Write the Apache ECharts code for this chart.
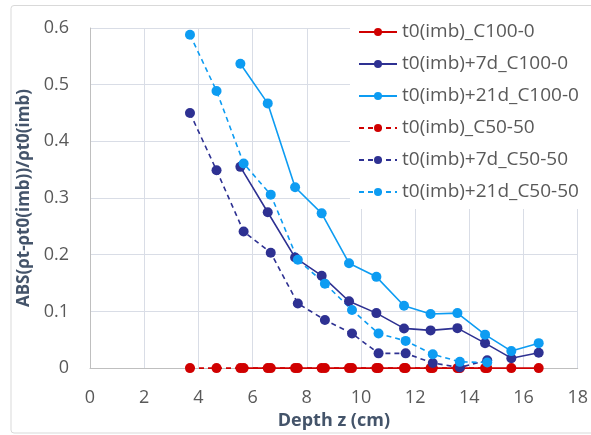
<!DOCTYPE html>
<html>
<head>
<meta charset="utf-8">
<script src="https://cdn.jsdelivr.net/npm/echarts@6/dist/echarts.min.js"></script>
<style>html,body{margin:0;padding:0;background:#fff}#c{width:591px;height:435px}</style>
</head>
<body>
<div id="c"></div>
<script>
const depthC100 = [5.55, 6.56, 7.57, 8.55, 9.56, 10.57, 11.59, 12.57, 13.56, 14.58, 15.55, 16.56];
const depthC50 = [3.69, 4.67, 5.67, 6.67, 7.67, 8.67, 9.67, 10.65, 11.65, 12.65, 13.65, 14.66];
const t0_C100 = [0, 0, 0, 0, 0, 0, 0, 0, 0, 0, 0, 0];
const t7_C100 = [0.355, 0.275, 0.195, 0.163, 0.118, 0.097, 0.070, 0.0665, 0.0705, 0.044, 0.0175, 0.027];
const t21_C100 = [0.537, 0.467, 0.319, 0.273, 0.185, 0.161, 0.110, 0.0955, 0.097, 0.059, 0.030, 0.044];
const t0_C50 = [0, 0, 0, 0, 0, 0, 0, 0, 0, 0, 0, 0];
const t7_C50 = [0.450, 0.349, 0.241, 0.2035, 0.114, 0.085, 0.061, 0.026, 0.026, 0.009, 0.001, 0.014];
const t21_C50 = [0.588, 0.489, 0.361, 0.306, 0.191, 0.149, 0.1025, 0.061, 0.048, 0.0245, 0.011, 0.010];
const seriesNames = ['t0(imb)_C100-0', 't0(imb)+7d_C100-0', 't0(imb)+21d_C100-0', 't0(imb)_C50-50', 't0(imb)+7d_C50-50', 't0(imb)+21d_C50-50'];
const xTicks = {min: 0, max: 18, interval: 2};
const yTicks = {min: 0, max: 0.6, interval: 0.1};

const RED = '#d00000', NAVY = '#2e3192', BLUE = '#0d9cf2';
const font = '"Open Sans", "Noto Sans", sans-serif';
function pairs(xs, ys) { return xs.map((x, i) => [x, ys[i]]); }
function mk(name, xs, ys, color, dashed) {
  return {
    name: name, type: 'line', data: pairs(xs, ys),
    symbol: 'circle', symbolSize: 10,
    itemStyle: {color: color},
    lineStyle: {color: color, width: 1.6, type: dashed ? [5, 4] : 'solid'},
    emphasis: {disabled: true}, animation: false
  };
}
const chart = echarts.init(document.getElementById('c'), null, {renderer: 'canvas'});
chart.setOption({
  backgroundColor: '#fff',
  animation: false,
  graphic: [{
    type: 'rect', shape: {x: 11, y: 5.5, width: 600, height: 427.5, r: 3},
    style: {fill: 'none', stroke: '#d9d9d9', lineWidth: 1}, z: -1
  }],
  grid: {left: 90, right: 13, top: 28, bottom: 64},
  xAxis: {
    type: 'value', min: xTicks.min, max: xTicks.max, interval: xTicks.interval,
    name: 'Depth z (cm)', nameLocation: 'middle', nameGap: 43,
    nameTextStyle: {fontFamily: font, fontSize: 18, fontWeight: 'bold', color: '#44546a'},
    axisLine: {show: true, lineStyle: {color: '#bfbfbf', width: 1}},
    axisTick: {show: false},
    axisLabel: {fontFamily: font, fontSize: 18, color: '#595959', margin: 21},
    splitLine: {show: true, lineStyle: {color: '#d9dde6', width: 1}}
  },
  yAxis: {
    type: 'value', min: yTicks.min, max: yTicks.max, interval: yTicks.interval,
    name: 'ABS(ρt-ρt0(imb))/ρt0(imb)', nameLocation: 'middle', nameGap: 54,
    nameTextStyle: {fontFamily: font, fontSize: 17, fontWeight: 'bold', color: '#44546a'},
    axisLine: {show: true, lineStyle: {color: '#bfbfbf', width: 1}},
    axisTick: {show: false},
    axisLabel: {fontFamily: font, fontSize: 18, color: '#595959', margin: 21,
      formatter: v => (Math.round(v * 10) / 10).toString()},
    splitLine: {show: true, lineStyle: {color: '#d9dde6', width: 1}}
  },
  legend: {
    orient: 'vertical', left: 350, top: 15,
    padding: [7, 0, 7, 8], backgroundColor: '#fff',
    itemWidth: 38, itemHeight: 10, itemGap: 12,
    textStyle: {fontFamily: font, fontSize: 19, color: '#595959', lineHeight: 20},
    data: seriesNames
  },
  series: [
    mk(seriesNames[0], depthC100, t0_C100, RED, false),
    mk(seriesNames[1], depthC100, t7_C100, NAVY, false),
    mk(seriesNames[2], depthC100, t21_C100, BLUE, false),
    mk(seriesNames[3], depthC50, t0_C50, RED, true),
    mk(seriesNames[4], depthC50, t7_C50, NAVY, true),
    mk(seriesNames[5], depthC50, t21_C50, BLUE, true)
  ]
});
</script>
</body>
</html>
